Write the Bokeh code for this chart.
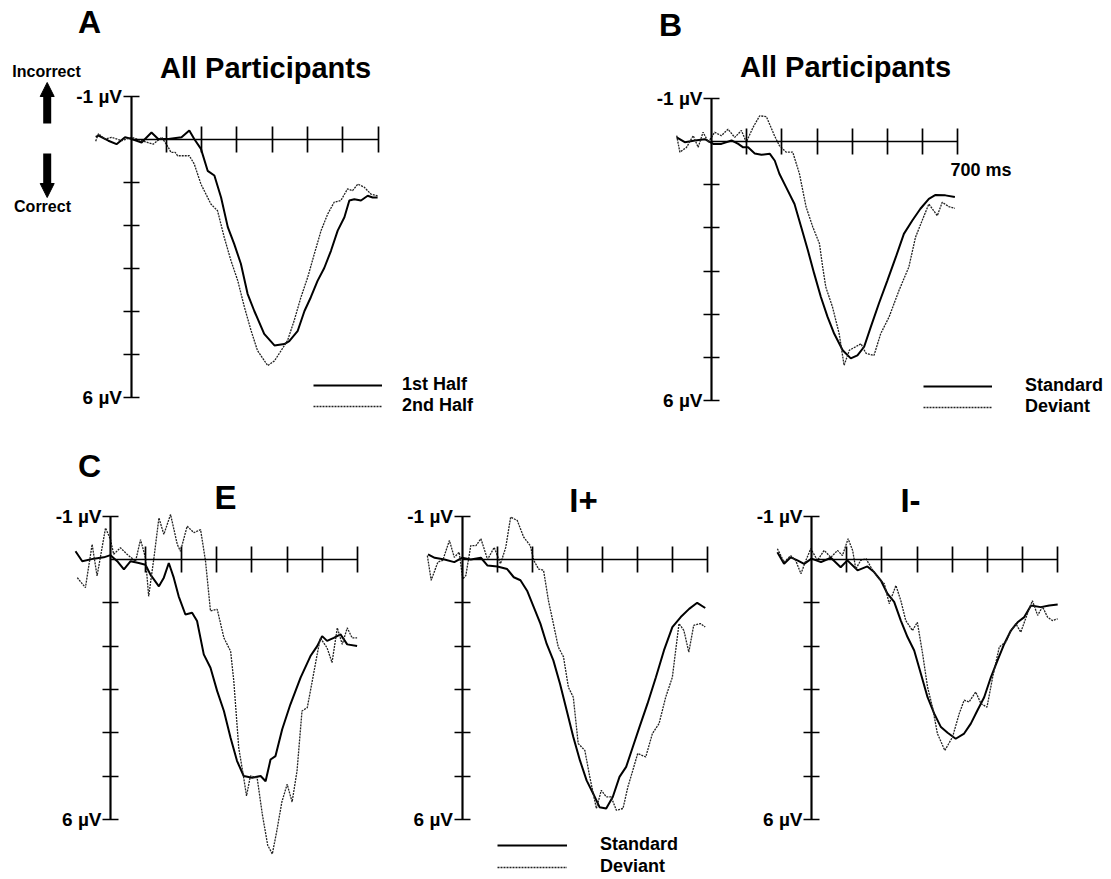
from bokeh.plotting import figure
from bokeh.models import (Range1d, FixedTicker, Label, Arrow, NormalHead, Legend, LegendItem,
                          LinearAxis)
from bokeh.layouts import column, row
from bokeh.embed import file_html
from bokeh.resources import INLINE

FONT = "Liberation Sans"

# ---------------- data (time in ms, amplitude in µV, positive plotted downward) ----------------
X_TICKS = [100, 200, 300, 400, 500, 600, 700]
Y_LABEL_TICKS = [-1, 6]
Y_TICK_LABELS = {-1: "-1 µV", 6: "6 µV"}
Y_MINOR_TICKS = [1, 2, 3, 4, 5]

# Panel A: All Participants, 1st vs 2nd half
A_t_first = [-100, -92, -64, -41, -17, 2, 30, 58, 77, 106, 143, 165, 179, 198, 217, 236, 255, 274, 292,
             311, 330, 349, 377, 406, 434, 448, 472, 491, 509, 528, 547, 566, 585, 604, 618, 632, 651,
             670, 684, 698]
A_v_first = [-0.05, -0.08, 0.04, 0.12, -0.04, 0.0, 0.08, -0.15, 0.0, 0.0, -0.04, -0.2, 0.0, 0.23, 0.74,
             0.85, 1.36, 2.05, 2.44, 2.9, 3.6, 4.0, 4.53, 4.8, 4.77, 4.7, 4.46, 4.0, 3.68, 3.3, 3.0, 2.6,
             2.13, 1.82, 1.43, 1.4, 1.43, 1.32, 1.36, 1.36]
A_t_second = [-100, -92, -74, -55, -26, 2, 30, 63, 87, 106, 113, 125, 132, 165, 179, 198, 226, 245, 264,
              283, 302, 321, 340, 358, 387, 406, 425, 443, 462, 481, 500, 519, 538, 557, 575, 594, 613,
              627, 642, 660, 679, 698]
A_v_second = [0.05, -0.12, 0.0, -0.04, 0.04, -0.04, 0.04, 0.12, -0.04, 0.2, 0.31, 0.31, 0.39, 0.39, 0.58,
              1.05, 1.51, 1.67, 2.29, 2.83, 3.29, 3.91, 4.46, 4.92, 5.27, 5.16, 4.92, 4.69, 4.22, 3.68,
              3.22, 2.67, 2.13, 1.74, 1.47, 1.43, 1.16, 1.2, 1.05, 1.12, 1.28, 1.32]

# Panel B: All Participants, Standard vs Deviant
B_t_std = [-99, -76, -47, -19, 5, 28, 57, 76, 90, 104, 123, 142, 166, 180, 193, 212, 236, 255, 274, 292,
           311, 330, 349, 373, 396, 415, 434, 453, 476, 500, 524, 547, 571, 594, 618, 637, 665, 692]
B_v_std = [-0.09, 0.02, -0.02, -0.05, 0.06, 0.06, -0.02, 0.06, 0.14, 0.14, 0.28, 0.31, 0.29, 0.45, 0.75,
           1.06, 1.45, 1.98, 2.52, 3.06, 3.6, 4.06, 4.45, 4.83, 5.02, 4.95, 4.75, 4.29, 3.75, 3.22, 2.68,
           2.14, 1.83, 1.56, 1.33, 1.24, 1.25, 1.29]
B_t_dev = [-99, -90, -71, -52, -38, -24, -9, 9, 28, 47, 66, 85, 99, 118, 137, 156, 179, 193, 212, 231,
           250, 269, 288, 307, 316, 325, 344, 363, 377, 392, 410, 425, 439, 462, 481, 505, 533, 561, 580,
           599, 618, 642, 656, 675, 692]
B_v_dev = [-0.13, 0.25, 0.14, -0.13, 0.14, -0.21, 0.02, -0.21, -0.13, -0.28, -0.09, -0.25, 0.02, -0.32,
           -0.59, -0.57, -0.13, 0.1, 0.25, 0.25, 0.75, 1.52, 1.98, 2.37, 2.9, 3.37, 3.83, 4.45, 5.18, 4.83,
           4.75, 4.68, 4.9, 4.95, 4.45, 4.06, 3.45, 2.91, 2.22, 1.83, 1.45, 1.72, 1.41, 1.51, 1.55]

# Panel C, E
E_t_std = [-99, -80, -47, -19, 0, 19, 38, 57, 80, 99, 113, 137, 151, 165, 179, 193, 212, 231, 245, 264,
           283, 302, 321, 340, 358, 377, 401, 425, 439, 453, 467, 486, 509, 538, 566, 585, 599, 613, 632,
           651, 670, 698]
E_v_std = [-0.19, 0.04, -0.02, -0.05, -0.1, 0.04, 0.23, 0.04, 0.08, 0.12, 0.35, 0.62, 0.42, 0.08, 0.42,
           0.85, 1.27, 1.23, 1.42, 2.19, 2.5, 3.04, 3.5, 4.12, 4.65, 5.0, 5.04, 5.0, 5.12, 4.62, 4.54, 3.92,
           3.35, 2.73, 2.23, 2.0, 1.77, 1.88, 1.81, 1.73, 1.96, 2.0]
E_t_dev = [-94, -71, -52, -38, -14, 0, 9, 28, 47, 71, 85, 99, 108, 123, 137, 151, 170, 189, 198, 217,
           236, 255, 269, 283, 302, 321, 340, 349, 363, 377, 385, 396, 415, 430, 445, 458, 470, 485, 500,
           514, 528, 542, 557, 571, 585, 594, 613, 627, 642, 656, 670, 684, 698]
E_v_dev = [0.42, 0.65, -0.35, 0.38, -0.73, -0.46, -0.12, -0.27, -0.12, 0.04, -0.46, -0.04, 0.85, -0.04,
           -0.96, -0.58, -1.04, -0.35, -0.19, -0.77, -0.62, -0.69, 0.04, 1.19, 1.15, 1.81, 2.12, 2.81, 4.35,
           5.04, 5.46, 5.0, 5.04, 5.9, 6.6, 6.8, 6.3, 5.6, 5.19, 5.6, 4.88, 3.5, 3.42, 2.81, 2.19, 1.81,
           2.04, 2.38, 1.58, 1.96, 1.58, 1.81, 1.81]

# Panel C, I+
Ip_t_std = [-97, -78, -50, -22, 0, 25, 54, 73, 101, 129, 148, 167, 186, 205, 224, 242, 261, 280, 299,
            318, 337, 356, 375, 393, 412, 431, 450, 469, 488, 507, 530, 554, 577, 601, 625, 649, 672, 695]
Ip_v_std = [-0.12, -0.04, 0.0, 0.06, -0.04, 0.0, -0.04, 0.14, 0.16, 0.22, 0.41, 0.48, 0.72, 1.1, 1.48,
            1.95, 2.33, 2.87, 3.48, 4.1, 4.64, 5.1, 5.41, 5.72, 5.75, 5.48, 5.02, 4.79, 4.33, 3.87, 3.33,
            2.72, 2.1, 1.56, 1.33, 1.14, 1.0, 1.12]
Ip_t_dev = [-99, -88, -69, -55, -36, -22, -8, 2, 11, 25, 40, 54, 73, 92, 110, 125, 139, 158, 176, 195,
            205, 219, 233, 247, 261, 275, 290, 304, 318, 332, 351, 365, 384, 398, 412, 426, 441, 460, 474,
            488, 502, 525, 544, 563, 582, 601, 620, 634, 648, 662, 681, 695]
Ip_v_dev = [-0.09, 0.48, 0.06, 0.02, -0.44, -0.05, -0.17, 0.45, 0.37, -0.32, -0.32, -0.48, 0.0, -0.28,
            0.1, -0.28, -0.98, -0.9, -0.52, -0.32, 0.02, 0.22, 0.25, 0.95, 1.48, 2.02, 2.25, 2.95, 3.18,
            4.25, 4.41, 5.02, 5.75, 5.33, 5.48, 5.48, 5.79, 5.75, 5.25, 4.87, 4.48, 4.56, 4.02, 3.79, 3.18,
            2.72, 1.48, 1.64, 2.14, 1.52, 1.48, 1.56]

# Panel C, I-
Im_t_std = [-97, -78, -59, -40, -21, 0, 27, 55, 83, 102, 131, 159, 178, 197, 216, 235, 254, 273, 292,
            311, 330, 349, 368, 387, 410, 434, 453, 472, 491, 510, 529, 548, 567, 586, 605, 624, 652, 676,
            700]
Im_v_std = [-0.17, 0.1, -0.05, 0.02, 0.1, -0.02, 0.06, -0.04, 0.18, 0.02, 0.25, 0.16, 0.29, 0.48, 0.79,
            0.98, 1.41, 1.79, 2.1, 2.64, 3.18, 3.56, 3.87, 4.0, 4.14, 4.02, 3.79, 3.48, 3.18, 2.72, 2.33,
            1.95, 1.64, 1.45, 1.33, 1.06, 1.1, 1.06, 1.04]
Im_t_dev = [-97, -78, -59, -45, -30, -16, -2, 17, 36, 55, 74, 88, 104, 117, 126, 140, 155, 169, 188, 207,
            221, 240, 254, 268, 287, 301, 316, 330, 344, 358, 379, 401, 420, 434, 448, 467, 482, 499, 515,
            534, 553, 567, 581, 595, 614, 628, 643, 657, 671, 685, 700]
Im_v_dev = [-0.25, 0.06, -0.09, 0.02, 0.33, 0.02, -0.25, 0.02, -0.21, -0.05, -0.21, -0.09, -0.48, -0.21,
            0.22, 0.02, -0.02, 0.18, 0.41, 0.56, 1.02, 0.6, 0.95, 1.41, 1.64, 1.45, 2.18, 2.95, 3.41, 4.02,
            4.41, 4.1, 3.56, 3.25, 3.29, 3.06, 3.33, 3.41, 2.72, 2.02, 1.9, 1.64, 1.48, 1.68, 1.25, 0.95,
            1.29, 1.09, 1.33, 1.41, 1.37]


# ---------------- helpers ----------------
def style_axis_line(ax, tick):
    ax.fixed_location = 0
    ax.major_tick_in = tick
    ax.major_tick_out = tick
    ax.minor_tick_line_color = None
    ax.axis_line_width = 1.7
    ax.major_tick_line_width = 1.7
    ax.axis_line_color = "black"
    ax.major_tick_line_color = "black"


def make_panel(L, T, W, H, X0, kx, Y0, ky):
    """L,T,W,H: page box of the figure; X0/Y0: page pixel of (0 ms, 0 µV); kx px/ms, ky px/µV."""
    xr = Range1d((L - X0) / kx, (L + W - X0) / kx)
    yr = Range1d((T + H - Y0) / ky, (T - Y0) / ky)   # flipped: positive down
    p = figure(width=W, height=H, x_range=xr, y_range=yr, output_backend="svg",
               toolbar_location=None, min_border=0)
    p.grid.visible = False
    p.outline_line_color = None
    p.background_fill_color = "white"
    p.border_fill_color = "white"

    xa = p.xaxis[0]
    style_axis_line(xa, 13)
    xa.ticker = FixedTicker(ticks=X_TICKS)
    xa.bounds = (0, 700)
    xa.major_label_text_color = None

    ya = p.yaxis[0]
    style_axis_line(ya, 8)
    ya.ticker = FixedTicker(ticks=Y_LABEL_TICKS)
    ya.bounds = (-1, 6)
    ya.major_label_overrides = Y_TICK_LABELS
    ya.major_label_text_font = FONT
    ya.major_label_text_font_style = "bold"
    ya.major_label_text_font_size = "19px"
    ya.major_label_text_color = "black"
    ya.major_label_standoff = 1

    ya2 = LinearAxis(ticker=FixedTicker(ticks=Y_MINOR_TICKS), bounds=(-1, 6))
    style_axis_line(ya2, 8)
    ya2.major_label_text_color = None
    p.add_layout(ya2, "left")

    def pos(px, py):
        return (px - X0) / kx, (py - Y0) / ky
    return p, pos


def text(p, pos, px, py, s, size, align="center"):
    x, y = pos(px, py)
    p.add_layout(Label(x=x, y=y, text=s, text_font=FONT, text_font_style="bold",
                       text_font_size=size, text_align=align, text_baseline="middle",
                       text_color="black"))


def curves(p, t1, v1, t2, v2):
    r1 = p.line(t1, v1, line_color="black", line_width=2.0)
    r2 = p.line(t2, v2, line_color="#222222", line_width=1.3, line_dash="2 1")
    return r1, r2


def legend(p, r1, r2, l1, l2, loc, gw, standoff, spacing):
    lg = Legend(items=[LegendItem(label=l1, renderers=[r1]), LegendItem(label=l2, renderers=[r2])],
                location=loc, glyph_width=gw, glyph_height=16, label_height=16,
                label_standoff=standoff, spacing=spacing, padding=0, margin=0,
                border_line_color=None, background_fill_alpha=0,
                label_text_font=FONT, label_text_font_style="bold", label_text_font_size="18px",
                label_text_color="black")
    p.add_layout(lg)


# ---------------- panel A ----------------
pA, posA = make_panel(0, 0, 580, 443, 130.5, 0.3533, 138.5, 43.0)
a1, a2 = curves(pA, A_t_first, A_v_first, A_t_second, A_v_second)
legend(pA, a1, a2, "1st Half", "2nd Half", (313, 27), 69, 20, 0)
text(pA, posA, 89, 21, "A", "32px")
text(pA, posA, 265, 67, "All Participants", "29px")
text(pA, posA, 46, 71, "Incorrect", "16px")
text(pA, posA, 42, 206, "Correct", "16px")
xs, ys = posA(46.7, 123)
xe, ye = posA(46.7, 82)
pA.add_layout(Arrow(end=NormalHead(size=14, fill_color="black", line_color="black"),
                    x_start=xs, y_start=ys, x_end=xe, y_end=ye, line_width=8, line_color="black"))
xs, ys = posA(46.7, 153)
xe, ye = posA(46.7, 197)
pA.add_layout(Arrow(end=NormalHead(size=14, fill_color="black", line_color="black"),
                    x_start=xs, y_start=ys, x_end=xe, y_end=ye, line_width=8, line_color="black"))

# ---------------- panel B ----------------
pB, posB = make_panel(580, 0, 531, 443, 711, 0.3517, 140.8, 43.25)
b1, b2 = curves(pB, B_t_std, B_v_std, B_t_dev, B_v_dev)
legend(pB, b1, b2, "Standard", "Deviant", (343, 26), 69, 33, 0)
text(pB, posB, 670, 24, "B", "32px")
text(pB, posB, 845, 66, "All Participants", "29px")
text(pB, posB, 950, 169, "700 ms", "18px", align="left")

# ---------------- panel C ----------------
pE, posE = make_panel(0, 443, 390, 436, 110, 0.3533, 559, 43.3)
curves(pE, E_t_std, E_v_std, E_t_dev, E_v_dev)
text(pE, posE, 89, 465, "C", "32px")
text(pE, posE, 225, 497, "E", "33px")

pIp, posIp = make_panel(390, 443, 350, 436, 461.5, 0.35, 559, 43.3)
c1, c2 = curves(pIp, Ip_t_std, Ip_v_std, Ip_t_dev, Ip_v_dev)
legend(pIp, c1, c2, "Standard", "Deviant", (107, 2), 70, 33, 1)
text(pIp, posIp, 583, 500, "I+", "33px")

pIm, posIm = make_panel(740, 443, 371, 436, 811, 0.3517, 559, 43.3)
curves(pIm, Im_t_std, Im_v_std, Im_t_dev, Im_v_dev)
text(pIm, posIm, 910, 500, "I-", "33px")

layout = column(row(pA, pB), row(pE, pIp, pIm))
open("out.html", "w").write(file_html(layout, INLINE))
